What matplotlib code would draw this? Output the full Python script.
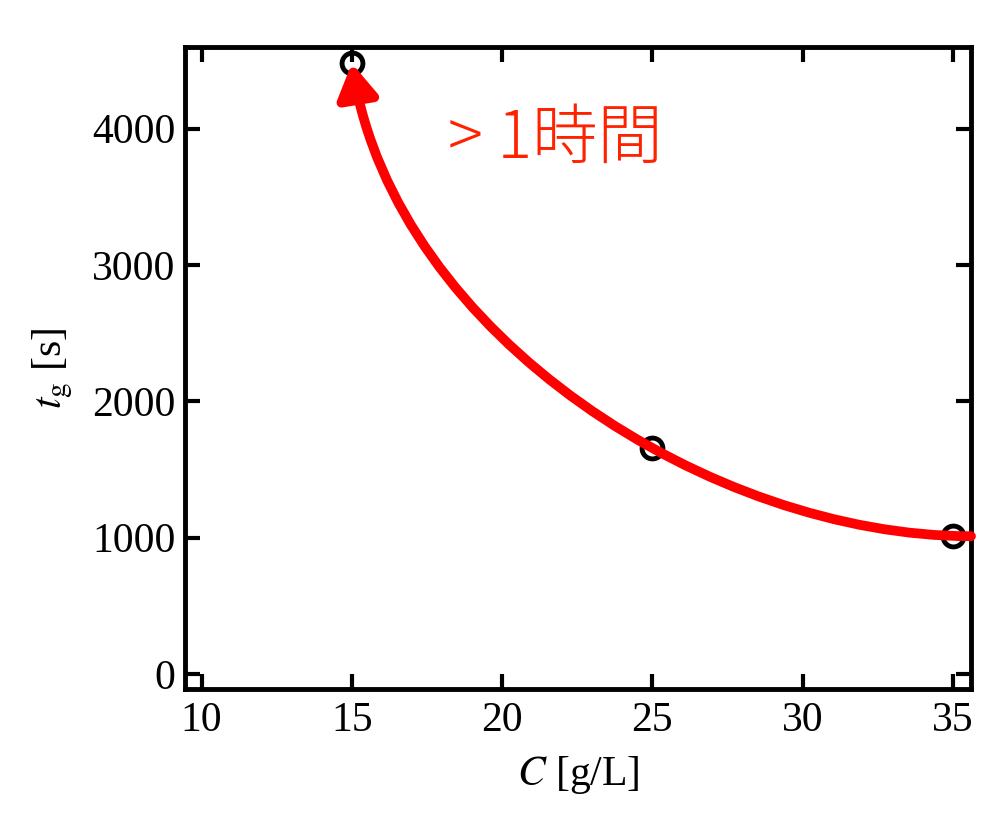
import matplotlib
matplotlib.use("Agg")
import matplotlib.pyplot as plt
from matplotlib.patches import FancyArrowPatch
from matplotlib.path import Path

# data
conc = [15, 25, 35]            # C [g/L]
t_gel = [4480, 1660, 1010]     # t_g [s]
xticks = [10, 15, 20, 25, 30, 35]
yticks = [0, 1000, 2000, 3000, 4000]
note = "> 1時間"

plt.rcParams['font.family'] = ['Liberation Serif', 'DejaVu Serif']
plt.rcParams['mathtext.fontset'] = 'stix'

fig = plt.figure(figsize=(10, 8.23), dpi=100)
ax = fig.add_axes([0.185, 0.163, 0.786, 0.78])

ax.plot(conc, t_gel, 'o', ms=15, mfc='none', mec='black', mew=3.5, zorder=3)

ax.set_xlim(9.45, 35.6)
ax.set_ylim(-110, 4600)
ax.set_xticks(xticks)
ax.set_yticks(yticks)
ax.tick_params(direction='in', length=11, width=3, labelsize=30,
               top=True, right=True, pad=7)
ax.tick_params(axis='x', pad=9)
for s in ax.spines.values():
    s.set_linewidth(3.5)

ax.set_xlabel(r'$C$ [g/L]', fontsize=30, labelpad=10)
ax.set_ylabel(r'$t_{\mathrm{g}}$ [s]', fontsize=30, labelpad=12)

# hand-drawn looking red arrow: cubic curve from the right edge back to 15 g/L
xmax = ax.get_xlim()[1]
verts = [(xmax, t_gel[-1]), (27.0, t_gel[-1]), (16.5, 2470), (conc[0], t_gel[0])]
codes = [Path.MOVETO, Path.CURVE4, Path.CURVE4, Path.CURVE4]
arrow = FancyArrowPatch(path=Path(verts, codes),
                        arrowstyle="-|>,head_length=0.5,head_width=0.3",
                        mutation_scale=40, lw=7, color='red',
                        zorder=4, clip_on=False, transform=ax.transData)
ax.add_patch(arrow)

ax.text(0.335, 0.855, note, transform=ax.transAxes, fontsize=47,
        color='#ff2200', va='center', ha='left',
        family=['Noto Sans CJK JP', 'DejaVu Sans'], fontweight='light')

fig.savefig('out.png', dpi=100)
